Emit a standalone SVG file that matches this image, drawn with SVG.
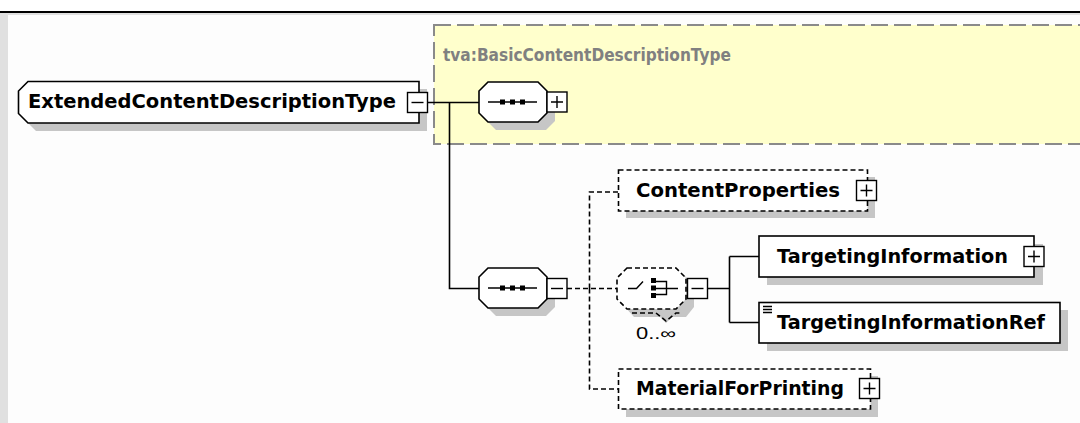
<svg xmlns="http://www.w3.org/2000/svg" width="1080" height="423" viewBox="0 0 1080 423">
<style>
.lbl{font-family:"DejaVu Sans","Liberation Sans",sans-serif;font-weight:bold;font-size:19px;fill:#000}
.box{fill:#fff;stroke:#000;stroke-width:1.6}
.dbox{fill:#fff;stroke:#000;stroke-width:1.6;stroke-dasharray:5 3}
.sh{fill:#c6c6c6;stroke:none}
.pm{fill:#fff;stroke:#000;stroke-width:1.4}
.sign{stroke:#000;stroke-width:1.4;fill:none}
.wire{stroke:#000;stroke-width:1.6;fill:none}
.dwire{stroke:#000;stroke-width:1.6;fill:none;stroke-dasharray:5 3}
</style>
<defs>
<g id="plus"><rect class="pm" x="0" y="0" width="20" height="20"/><path class="sign" d="M4 10H16M10 4V16"/></g>
<g id="minus"><rect class="pm" x="0" y="0" width="20" height="20"/><path class="sign" d="M4 10H16"/></g>
<g id="seqsym"><path class="sign" d="M9 0H58"/><rect x="21" y="-2.5" width="5" height="5" fill="#000"/><rect x="31" y="-2.5" width="5" height="5" fill="#000"/><rect x="41" y="-2.5" width="5" height="5" fill="#000"/></g>
</defs>
<!-- background -->
<rect x="0" y="0" width="1080" height="423" fill="#fdfdfd"/>
<rect x="0" y="0" width="1080" height="11" fill="#ffffff"/>
<rect x="0" y="11" width="1080" height="2" fill="#000"/>
<rect x="0" y="13" width="1080" height="2" fill="#e0e0e0"/>
<rect x="0" y="13" width="8" height="410" fill="#e0e0e0"/>

<g id="basetype">
<rect x="434" y="25" width="680" height="119" fill="#ffffcc" stroke="#8a8a8a" stroke-width="2" stroke-dasharray="17 6"/>
<text x="443" y="61" font-family="DejaVu Sans,Liberation Sans,sans-serif" font-weight="bold" font-size="18" fill="#808080" textLength="288" lengthAdjust="spacingAndGlyphs">tva:BasicContentDescriptionType</text>
</g>

<g id="connectors">
<path class="wire" d="M428 102.5H479M449.5 102.5V288.5H479"/>
<path class="dwire" d="M567 288.5H617M589.5 288.5V192H618M589.5 288.5V389H618"/>
<path class="wire" d="M707 288.5H729.5M729.5 256.5V322.5M729.5 256.5H759M729.5 322.5H759"/>
</g>

<g id="root">
<path class="sh" d="M36 89H427V131H36L26 121V99Z"/>
<path class="box" d="M28 81.5H419V123H28L18.5 113.5V91Z"/>
<text class="lbl" x="28" y="108" textLength="368" lengthAdjust="spacingAndGlyphs">ExtendedContentDescriptionType</text>
<use href="#minus" x="407.5" y="92.5"/>
</g>

<g id="seq1">
<path class="sh" d="M496 90H546L555 99V121L546 130H496L487 121V99Z"/>
<path class="box" d="M488 82H538L547 91V113L538 122H488L479 113V91Z"/>
<use href="#seqsym" x="479" y="102"/>
<use href="#plus" x="547" y="92"/>
</g>

<g id="seq2">
<path class="sh" d="M496 276H546L555 285V307L546 316H496L487 307V285Z"/>
<path class="box" d="M488 268H538L547 277V299L538 308H488L479 299V277Z"/>
<use href="#seqsym" x="479" y="288"/>
<use href="#minus" x="547" y="278.5"/>
</g>

<g id="contentprops">
<rect class="sh" x="626" y="177" width="249" height="41"/>
<rect class="dbox" x="618.5" y="170" width="249" height="41"/>
<text class="lbl" x="636" y="197" textLength="204" lengthAdjust="spacingAndGlyphs">ContentProperties</text>
<use href="#plus" x="856.5" y="180.5"/>
</g>

<g id="choice">
<path class="sh" d="M635 276H685L694 285V307L686 317H672L666 323L660 317H634L625 307V285Z"/>
<path class="dbox" d="M627 268H676L686 278V299L676 309H627L617 299V278Z"/>
<path class="dwire" d="M632 313H656L666 321L676 313H681"/>
<path class="sign" d="M628 288.5H636.5L643 281.5"/>
<rect x="651" y="278" width="5" height="5" fill="#000"/>
<rect x="651" y="285.5" width="5" height="5" fill="#000"/>
<rect x="651" y="293" width="5" height="5" fill="#000"/>
<path class="sign" d="M656 281.5H666.5V294.5H656M656 288.5H678"/>
<use href="#minus" x="687.5" y="278.5"/>
<text x="636" y="339" font-family="Liberation Sans,sans-serif" font-size="16" fill="#000" textLength="40" lengthAdjust="spacingAndGlyphs">0..∞</text>
</g>

<g id="targetinginfo">
<rect class="sh" x="767" y="244" width="276" height="41"/>
<rect class="box" x="759" y="236" width="275" height="41"/>
<text class="lbl" x="777" y="263" textLength="231" lengthAdjust="spacingAndGlyphs">TargetingInformation</text>
<use href="#plus" x="1024" y="246.5"/>
</g>

<g id="targetinginforef">
<rect class="sh" x="767" y="310" width="301" height="41"/>
<rect class="box" x="759" y="302.5" width="301" height="40.5"/>
<path class="sign" stroke-width="1" d="M763 306.5H772M763 309.5H772M763 312.5H772"/>
<text class="lbl" x="777" y="329" textLength="268" lengthAdjust="spacingAndGlyphs">TargetingInformationRef</text>
</g>

<g id="materialforprinting">
<rect class="sh" x="626" y="376" width="252" height="41"/>
<rect class="dbox" x="618.5" y="369" width="252" height="40"/>
<text class="lbl" x="636" y="395" textLength="208" lengthAdjust="spacingAndGlyphs">MaterialForPrinting</text>
<use href="#plus" x="859.5" y="378.5"/>
</g>
</svg>
